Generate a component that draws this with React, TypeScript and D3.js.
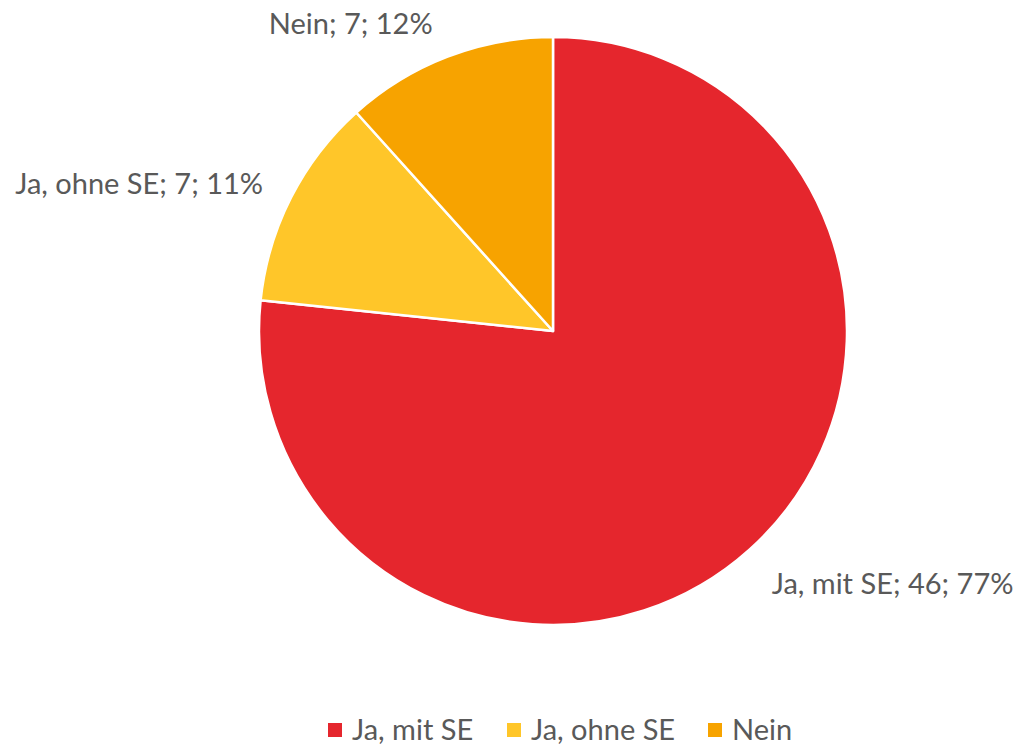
import React from "react";
import * as d3 from "d3";

const categories = ["Ja, mit SE", "Ja, ohne SE", "Nein"];
const values = [46, 7, 7];
const percentLabels = ["77%", "11%", "12%"];
const colors = ["#E5262D", "#FFC629", "#F7A300"];

const W = 1020;
const H = 746;
const cx = 553;
const cy = 331;
const R = 294;
const FONT = "Lato, 'Open Sans', sans-serif";
const TEXT = "#595959";

// label offsets from the slice's outer-arc midpoint (layout only)
const labelOffsets: [number, number, string][] = [
  [22, 45, "start"],
  [-28, -4, "end"],
  [-15, -23, "end"],
];

export default function App() {
  const pie = d3.pie<number>().value((d) => d).sort(null);
  const arcs = pie(values);
  const arc = d3.arc<d3.PieArcDatum<number>>().innerRadius(0).outerRadius(R);
  const outer = d3.arc<d3.PieArcDatum<number>>().innerRadius(R).outerRadius(R);

  const legendPos = [328, 507, 708];

  return (
    <div style={{ position: "fixed", left: 0, top: 0 }}>
      <svg width={W} height={H} style={{ display: "block", background: "#fff" }}>
        <g transform={`translate(${cx},${cy})`}>
          {arcs.map((a, i) => (
            <path key={i} d={arc(a) || ""} fill={colors[i]} stroke="#fff" strokeWidth={2.5} strokeLinejoin="round" />
          ))}
          {arcs.map((a, i) => {
            const [mx, my] = outer.centroid(a);
            const [ox, oy, anchor] = labelOffsets[i];
            return (
              <text
                key={i}
                x={mx + ox}
                y={my + oy}
                textAnchor={anchor as any}
                fontFamily={FONT}
                fontSize={29}
                fill={TEXT}
              >
                {`${categories[i]}; ${values[i]}; ${percentLabels[i]}`}
              </text>
            );
          })}
        </g>
        <g>
          {categories.map((c, i) => (
            <g key={c} transform={`translate(${legendPos[i]},723)`}>
              <rect width={14} height={14} fill={colors[i]} />
              <text x={24} y={17} fontFamily={FONT} fontSize={29} fill={TEXT}>
                {c}
              </text>
            </g>
          ))}
        </g>
      </svg>
    </div>
  );
}
